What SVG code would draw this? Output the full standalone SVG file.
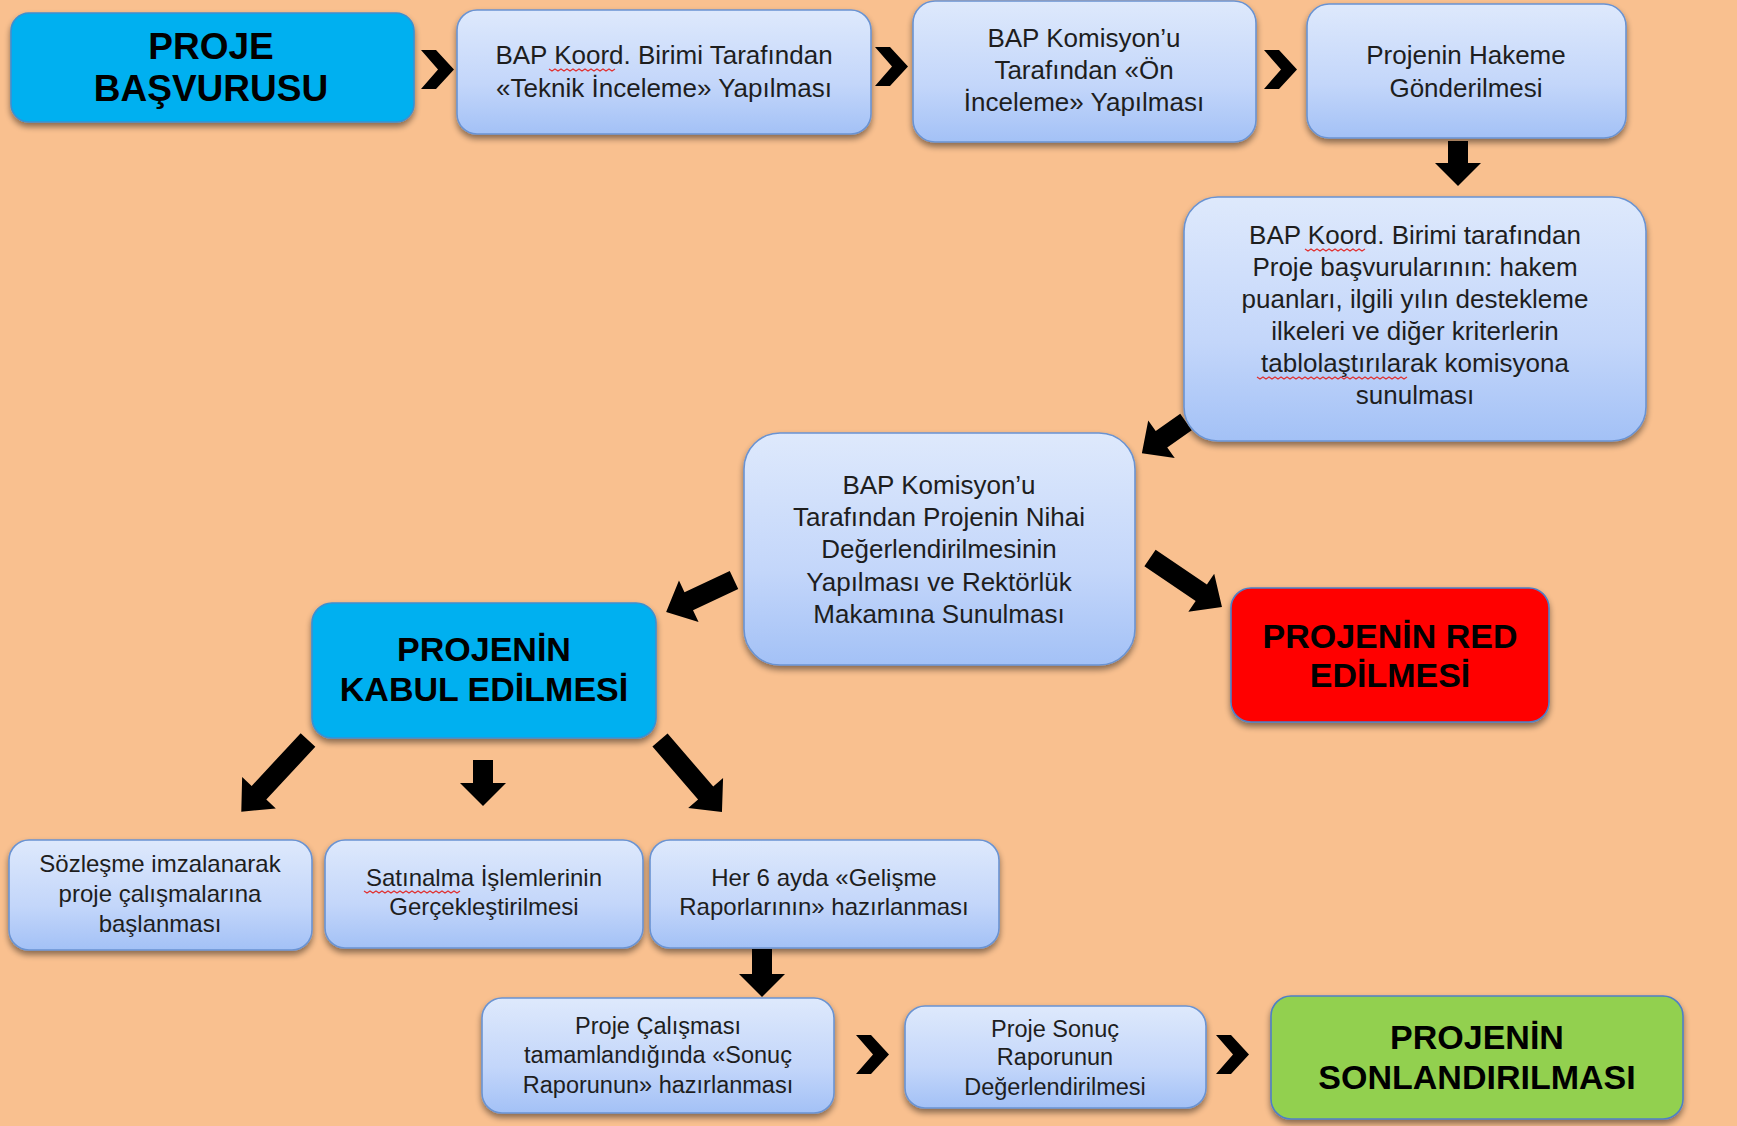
<svg xmlns="http://www.w3.org/2000/svg" width="1737" height="1126" viewBox="0 0 1737 1126">
<defs>
<linearGradient id="lb" x1="0" y1="0" x2="0" y2="1">
<stop offset="0" stop-color="#DEE9FC"/>
<stop offset="0.6" stop-color="#C3D6FA"/>
<stop offset="1" stop-color="#A3C1F6"/>
</linearGradient>
<filter id="sh" x="-10%" y="-10%" width="120%" height="130%">
<feGaussianBlur in="SourceAlpha" stdDeviation="3"/>
<feOffset dx="0" dy="4" result="b"/>
<feComponentTransfer><feFuncA type="linear" slope="0.45"/></feComponentTransfer>
<feMerge><feMergeNode/><feMergeNode in="SourceGraphic"/></feMerge>
</filter>
<polygon id="chev" points="0,0 15,0 33,19.5 15,39 0,39 17,19.5" fill="#000"/>
</defs>
<style>
.lb{fill:url(#lb);stroke:#6A93D2;stroke-width:1.6;filter:url(#sh)}
.cy{fill:#00B0F0;stroke:#3C8FD0;stroke-width:1.6;filter:url(#sh)}
.rd{fill:#FF0000;stroke:#4E7FC6;stroke-width:1.6;filter:url(#sh)}
.gr{fill:#92D050;stroke:#4E7FC6;stroke-width:1.6;filter:url(#sh)}
.t{font-family:"Liberation Sans",Arial,sans-serif;font-size:26px;fill:#1E1E1E;text-anchor:middle}
.s{font-size:24px}
.s2{font-size:23.5px}
.b{font-family:"Liberation Sans",Arial,sans-serif;font-size:34px;font-weight:bold;fill:#000;text-anchor:middle}
.bl{font-size:37px}
.w{fill:none;stroke:#E03030;stroke-width:1.2}
.ar{fill:#000}
</style>
<rect width="1737" height="1126" fill="#F9C08F"/>

<g id="connectors">
<use href="#chev" x="421" y="50"/>
<use href="#chev" x="875" y="47"/>
<use href="#chev" x="1264" y="50"/>
<use href="#chev" x="856" y="1035"/>
<use href="#chev" x="1216" y="1035"/>
<path class="ar" transform="translate(1458,141)" d="M-10,0 H10 V22 H23 L0,45 L-23,22 H-10 Z"/>
<path class="ar" transform="translate(1186,422) rotate(54.8)" d="M-10,0 H10 V30 H23 L0,54 L-23,30 H-10 Z"/>
<path class="ar" transform="translate(734,580) rotate(64.8)" d="M-10,0 H10 V50 H23 L0,75 L-23,50 H-10 Z"/>
<path class="ar" transform="translate(1150,558) rotate(-55.8)" d="M-10,0 H10 V62 H23 L0,87 L-23,62 H-10 Z"/>
<path class="ar" transform="translate(308,740) rotate(42.9)" d="M-10,0 H10 V72 H23 L0,98 L-23,72 H-10 Z"/>
<path class="ar" transform="translate(483,760)" d="M-10,0 H10 V23 H23 L0,46 L-23,23 H-10 Z"/>
<path class="ar" transform="translate(660,740) rotate(-40.7)" d="M-10,0 H10 V70 H23 L0,95 L-23,70 H-10 Z"/>
<path class="ar" transform="translate(762,949)" d="M-10,0 H10 V25 H23 L0,48 L-23,25 H-10 Z"/>
</g>

<g id="n1"><rect class="cy" x="11" y="13" width="403" height="109" rx="18"/>
<text class="b bl" x="211" y="59">PROJE</text>
<text class="b bl" x="211" y="101">BAŞVURUSU</text></g>

<g id="n2"><rect class="lb" x="457" y="10" width="414" height="124" rx="20"/>
<text class="t" x="664" y="64">BAP Koord. Birimi Tarafından</text>
<text class="t" x="664" y="97">«Teknik İnceleme» Yapılması</text>
<path class="w" d="M549,69 l3,2 l3,-2 l3,2 l3,-2 l3,2 l3,-2 l3,2 l3,-2 l3,2 l3,-2 l3,2 l3,-2 l3,2 l3,-2 l3,2 l3,-2 l3,2 l3,-2 l3,2 l3,-2 l3,2 l3,-2"/></g>

<g id="n3"><rect class="lb" x="913" y="1" width="343" height="141" rx="22"/>
<text class="t" x="1084" y="47">BAP Komisyon’u</text>
<text class="t" x="1084" y="79">Tarafından «Ön</text>
<text class="t" x="1084" y="111">İnceleme» Yapılması</text></g>

<g id="n4"><rect class="lb" x="1307" y="4" width="319" height="134" rx="22"/>
<text class="t" x="1466" y="64">Projenin Hakeme</text>
<text class="t" x="1466" y="97">Gönderilmesi</text></g>

<g id="n5"><rect class="lb" x="1184" y="197" width="462" height="244" rx="34"/>
<text class="t" x="1415" y="244">BAP Koord. Birimi tarafından</text>
<text class="t" x="1415" y="276">Proje başvurularının: hakem</text>
<text class="t" x="1415" y="308">puanları, ilgili yılın destekleme</text>
<text class="t" x="1415" y="340">ilkeleri ve diğer kriterlerin</text>
<text class="t" x="1415" y="372">tablolaştırılarak komisyona</text>
<text class="t" x="1415" y="404">sunulması</text>
<path class="w" d="M1305,249 l3,2 l3,-2 l3,2 l3,-2 l3,2 l3,-2 l3,2 l3,-2 l3,2 l3,-2 l3,2 l3,-2 l3,2 l3,-2 l3,2 l3,-2 l3,2 l3,-2 l3,2 l3,-2"/>
<path class="w" d="M1257,377 l3,2 l3,-2 l3,2 l3,-2 l3,2 l3,-2 l3,2 l3,-2 l3,2 l3,-2 l3,2 l3,-2 l3,2 l3,-2 l3,2 l3,-2 l3,2 l3,-2 l3,2 l3,-2 l3,2 l3,-2 l3,2 l3,-2 l3,2 l3,-2 l3,2 l3,-2 l3,2 l3,-2 l3,2 l3,-2 l3,2 l3,-2 l3,2 l3,-2 l3,2 l3,-2 l3,2 l3,-2 l3,2 l3,-2 l3,2 l3,-2 l3,2 l3,-2 l3,2 l3,-2 l3,2 l3,-2"/></g>

<g id="n6"><rect class="lb" x="744" y="433" width="391" height="232" rx="36"/>
<text class="t" x="939" y="494">BAP Komisyon’u</text>
<text class="t" x="939" y="526">Tarafından Projenin Nihai</text>
<text class="t" x="939" y="558">Değerlendirilmesinin</text>
<text class="t" x="939" y="591">Yapılması ve Rektörlük</text>
<text class="t" x="939" y="623">Makamına Sunulması</text></g>

<g id="n7"><rect class="cy" x="312" y="603" width="344" height="135" rx="20"/>
<text class="b" x="484" y="661">PROJENİN</text>
<text class="b" x="484" y="701">KABUL EDİLMESİ</text></g>

<g id="n8"><rect class="rd" x="1231" y="588" width="318" height="134" rx="20"/>
<text class="b" x="1390" y="648">PROJENİN RED</text>
<text class="b" x="1390" y="687">EDİLMESİ</text></g>

<g id="n9"><rect class="lb" x="9" y="840" width="303" height="110" rx="20"/>
<text class="t s" x="160" y="872">Sözleşme imzalanarak</text>
<text class="t s" x="160" y="902">proje çalışmalarına</text>
<text class="t s" x="160" y="932">başlanması</text></g>

<g id="n10"><rect class="lb" x="325" y="840" width="318" height="108" rx="20"/>
<text class="t s" x="484" y="886">Satınalma İşlemlerinin</text>
<text class="t s" x="484" y="915">Gerçekleştirilmesi</text>
<path class="w" d="M364,891 l3,2 l3,-2 l3,2 l3,-2 l3,2 l3,-2 l3,2 l3,-2 l3,2 l3,-2 l3,2 l3,-2 l3,2 l3,-2 l3,2 l3,-2 l3,2 l3,-2 l3,2 l3,-2 l3,2 l3,-2 l3,2 l3,-2 l3,2 l3,-2 l3,2 l3,-2 l3,2 l3,-2 l3,2 l3,-2"/></g>

<g id="n11"><rect class="lb" x="650" y="840" width="349" height="108" rx="20"/>
<text class="t s" x="824" y="886">Her 6 ayda «Gelişme</text>
<text class="t s" x="824" y="915">Raporlarının» hazırlanması</text></g>

<g id="n12"><rect class="lb" x="482" y="998" width="352" height="115" rx="20"/>
<text class="t s2" x="658" y="1034">Proje Çalışması</text>
<text class="t s2" x="658" y="1063">tamamlandığında «Sonuç</text>
<text class="t s2" x="658" y="1093">Raporunun» hazırlanması</text></g>

<g id="n13"><rect class="lb" x="905" y="1006" width="301" height="102" rx="20"/>
<text class="t s2" x="1055" y="1037">Proje Sonuç</text>
<text class="t s2" x="1055" y="1065">Raporunun</text>
<text class="t s2" x="1055" y="1095">Değerlendirilmesi</text></g>

<g id="n14"><rect class="gr" x="1271" y="996" width="412" height="123" rx="20"/>
<text class="b" x="1477" y="1049">PROJENİN</text>
<text class="b" x="1477" y="1089">SONLANDIRILMASI</text></g>
</svg>
